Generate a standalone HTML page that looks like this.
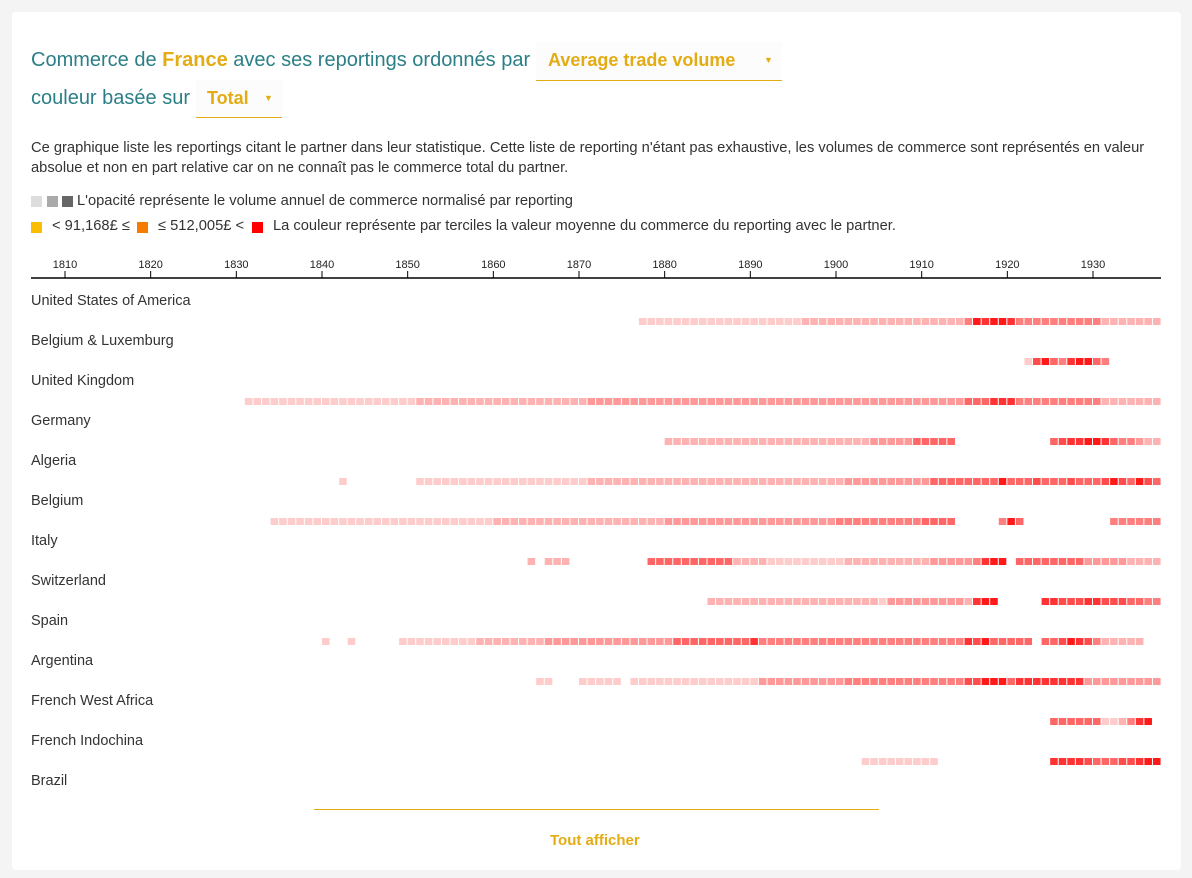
<!DOCTYPE html>
<html><head><meta charset="utf-8">
<style>
body{margin:0;background:#f4f4f4;font-family:"Liberation Sans",sans-serif;}
#card{position:absolute;left:12px;top:12px;width:1169px;height:858px;background:#fff;border-radius:4px;}
.t{position:absolute;font-size:20px;color:#2b7f87;white-space:nowrap}
.gold{color:#e3ac14;font-weight:bold}
.dd{position:absolute;border-bottom:1px solid #e3ac14;color:#e3ac14;font-weight:bold;font-size:18px;background:#fcfcfc}
.p{position:absolute;font-size:14.7px;color:#333;white-space:nowrap}
.sq{position:absolute;width:11px;height:11px}
</style></head><body>
<div id="card">
<div class="t" style="left:19px;top:37px">Commerce de <span class="gold">France</span> avec ses reportings ordonnés par</div>
<div class="dd" style="left:524px;top:30px;width:246px;height:38px"><span style="position:absolute;left:12px;top:8px">Average trade volume</span><span style="position:absolute;left:228px;top:13px;font-size:9px">▼</span></div>
<div class="t" style="left:19px;top:75px">couleur basée sur</div>
<div class="dd" style="left:184px;top:68px;width:86px;height:37px"><span style="position:absolute;left:11px;top:8px">Total</span><span style="position:absolute;left:68px;top:13px;font-size:9px">▼</span></div>
<div class="p" style="left:19px;top:126px;line-height:20px">Ce graphique liste les reportings citant le partner dans leur statistique. Cette liste de reporting n'étant pas exhaustive, les volumes de commerce sont représentés en valeur<br>absolue et non en part relative car on ne connaît pas le commerce total du partner.</div>
<div class="sq" style="left:19px;top:184px;background:#ddd"></div><div class="sq" style="left:35px;top:184px;background:#aaa"></div><div class="sq" style="left:50px;top:184px;background:#666"></div>
<div class="p" style="left:65px;top:181px">L'opacité représente le volume annuel de commerce normalisé par reporting</div>
<div class="sq" style="left:19px;top:210px;background:#fbbd00"></div>
<div class="p" style="left:40px;top:206px">&lt; 91,168£ ≤</div>
<div class="sq" style="left:125px;top:210px;background:#f57c00"></div>
<div class="p" style="left:146px;top:206px">≤ 512,005£ &lt;</div>
<div class="sq" style="left:240px;top:210px;background:#f00"></div>
<div class="p" style="left:261px;top:206px">La couleur représente par terciles la valeur moyenne du commerce du reporting avec le partner.</div>
<div style="position:absolute;left:302px;top:797px;width:565px;height:1px;background:#e3ac14"></div>
<div style="position:absolute;left:538px;top:820px;font-size:15px;font-weight:bold;color:#e3ac14">Tout afficher</div>
</div>
<svg id="chart" width="1192" height="878" style="position:absolute;left:0;top:0"></svg>
<script>
const partners = ["United States of America","Belgium & Luxemburg","United Kingdom","Germany","Algeria","Belgium","Italy","Switzerland","Spain","Argentina","French West Africa","French Indochina","Brazil"];
const tickYears = [1810,1820,1830,1840,1850,1860,1870,1880,1890,1900,1910,1920,1930];
// each row: segments [startYear, opacity digits (tenths), one per year]
const rowUSA = [[1877,"2222222222222222222333333333333333333359899855555555553333333"]];
const rowBelLux = [[1922,"2796589965"]];
const rowUK = [[1831,"22222222222222222222333333333333333333334444444444444444444444444444444444444444444466688855555555553333333"]];
const rowGermany = [[1880,"3333333333333333333333334444466666"],[1925,"6788998655433"]];
const rowAlgeria = [[1851,"222222222222222222223333333333333333333333333333334444444444666666669666766676667976976"],[1842,"2"]];
const rowBelgium = [[1834,"22222222222222222222222222333333333333333333334444444444444444444455555555556666"],[1919,"596"],[1932,"555555"]];
const rowItaly = [[1864,"3"],[1866,"333"],[1878,"666666666633332222222223333333333444445899"],[1921,"66666666444443333"]];
const rowSwitz = [[1885,"3333333333333333333324444444443899"],[1924,"88777887776655"]];
const rowSpain = [[1840,"2"],[1843,"2"],[1849,"22222222233333333444444444444444666666666855555555555555555555555587966666"],[1924,"667987533333"]];
const rowArg = [[1865,"22"],[1870,"22222"],[1876,"22222222222222244444444445555555555555577999688888888444444444"]];
const rowFWA = [[1925,"666666223589"]];
const rowIndo = [[1903,"222222222"],[1925,"8888766677899"]];
const rowBrazil = [];
const rows = [rowUSA,rowBelLux,rowUK,rowGermany,rowAlgeria,rowBelgium,rowItaly,rowSwitz,rowSpain,rowArg,rowFWA,rowIndo,rowBrazil];

const NS="http://www.w3.org/2000/svg";
const svg=document.getElementById('chart');
const xScale=y=>65+(y-1810)*(1028/120);
const yRow=i=>300+i*40;
function mk(tag,attrs){const e=document.createElementNS(NS,tag);for(const k in attrs)e.setAttribute(k,attrs[k]);svg.appendChild(e);return e;}
const axis=mk('line',{x1:31,x2:1161,y1:278,y2:278,stroke:'#000','stroke-width':1.5});


tickYears.forEach(t=>{
  const x=xScale(t);
  const tk=mk('line',{x1:x,x2:x,y1:271,y2:278,stroke:'#000'});
  
  
  const tx=mk('text',{x:x,y:268,'text-anchor':'middle','font-size':11,fill:'#222','font-family':'Liberation Sans, sans-serif'});
  tx.textContent=t;
  
  
});
partners.forEach((p,i)=>{
  const lb=mk('text',{x:31,y:yRow(i)+5,'font-size':14.5,fill:'#333','font-family':'Liberation Sans, sans-serif'});
  lb.textContent=p;
  
  
  rows[i].forEach(([start,vals])=>{
    for(let k=0;k<vals.length;k++){
      const yr=start+k;const x0=xScale(yr),x1=xScale(yr+1);
      const c=mk('rect',{x:x0,y:yRow(i)+18,width:x1-x0-1,height:7,fill:'#ff0000','fill-opacity':(+vals[k])/10});
      
      
    }
  });
});
</script>
</body></html>
